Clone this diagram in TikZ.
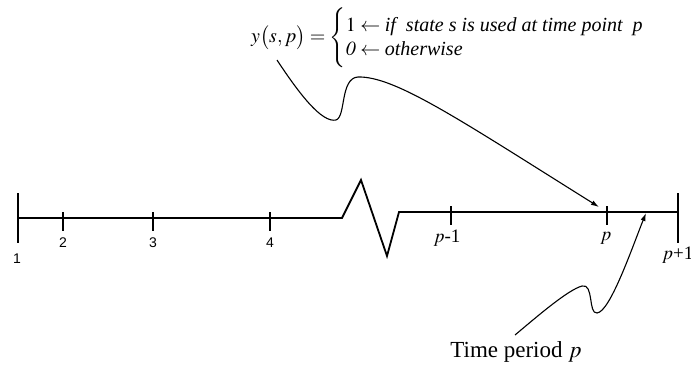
\documentclass[tikz,border=0pt]{standalone}
\usepackage{amsmath}
\usepackage{mathptmx}
\usepackage{fontspec}
\setmainfont{Liberation Serif}
\newfontfamily\labsans{Liberation Sans}
\usetikzlibrary{arrows.meta}
\tikzset{
  axisline/.style={line width=1.8pt, line join=miter},
  ticksmall/.style={line width=1.6pt},
  tickbig/.style={line width=1.8pt},
  numlab/.style={font=\labsans\fontsize{14}{16}\selectfont, inner sep=0pt},
  plab/.style={font=\fontsize{19}{21}\selectfont, inner sep=0pt},
  pointer/.style={line width=1.1pt, -{Latex[length=8pt,width=5pt]}},
}
\begin{document}
\begin{tikzpicture}[x=1pt,y=-1pt]
\useasboundingbox (0,0) rectangle (691,367);
% axis coordinates
\coordinate (L) at (18,218);
\coordinate (z0) at (342,218);
\coordinate (z1) at (361,180);
\coordinate (z2) at (387,256);
\coordinate (z3) at (399,212);
\coordinate (R) at (678,212);
\draw[axisline] (L) -- (z0) -- (z1) -- (z2) -- (z3) -- (R);
% big ticks
\draw[tickbig] (18,193) -- (18,243);
\draw[tickbig] (678,193) -- (678,243);
% small ticks
\coordinate (t2) at (63,218);
\coordinate (t3) at (153,218);
\coordinate (t4) at (270,218);
\coordinate (tp1) at (451,212);
\coordinate (tp) at (607,212);
\foreach \t in {t2,t3,t4,tp1,tp}{
  \draw[ticksmall] ([yshift=6pt]\t) -- ([yshift=-13pt]\t);
}
% labels
\node[numlab] (l1) at (17,259) {1};
\node[numlab] (l2) at (63,243) {2};
\node[numlab] (l3) at (153,243) {3};
\node[numlab] (l4) at (270,243) {4};
\node[plab] (lp1) at (447,238) {$p$-1};
\node[plab] (lp) at (606,238) {$p$};
\node[plab, anchor=west] (lpp) at (662,255) {$p$+1};
% formula
\node[anchor=west, inner sep=0pt, font=\fontsize{20}{25}\selectfont] (eq) at (251,37.5)
  {$y\bigl(s,p\bigr)=\begin{cases}1\leftarrow \textit{if \ state s is used at time point \ p}\\[-6pt] \mathit{0}\leftarrow \textit{otherwise}\end{cases}$};
% time period label
\node[inner sep=0pt, font=\fontsize{23}{27}\selectfont] (tpl) at (516,352) {Time period $p$};
% pointers
\coordinate (a1s) at (277,60);
\coordinate (a1e) at (599,207);
\draw[pointer] (a1s) .. controls (300,95) and (322,123) .. (336,120)
  .. controls (346,117) and (340,78) .. (358,77)
  .. controls (395,76) and (460,120) .. (a1e);
\coordinate (a2s) at (515,335);
\coordinate (a2e) at (646,213);
\draw[pointer] (a2s) .. controls (540,314) and (568,290) .. (582,286)
  .. controls (594,283) and (588,314) .. (597,313)
  .. controls (610,312) and (632,248) .. (a2e);
\end{tikzpicture}
\end{document}
